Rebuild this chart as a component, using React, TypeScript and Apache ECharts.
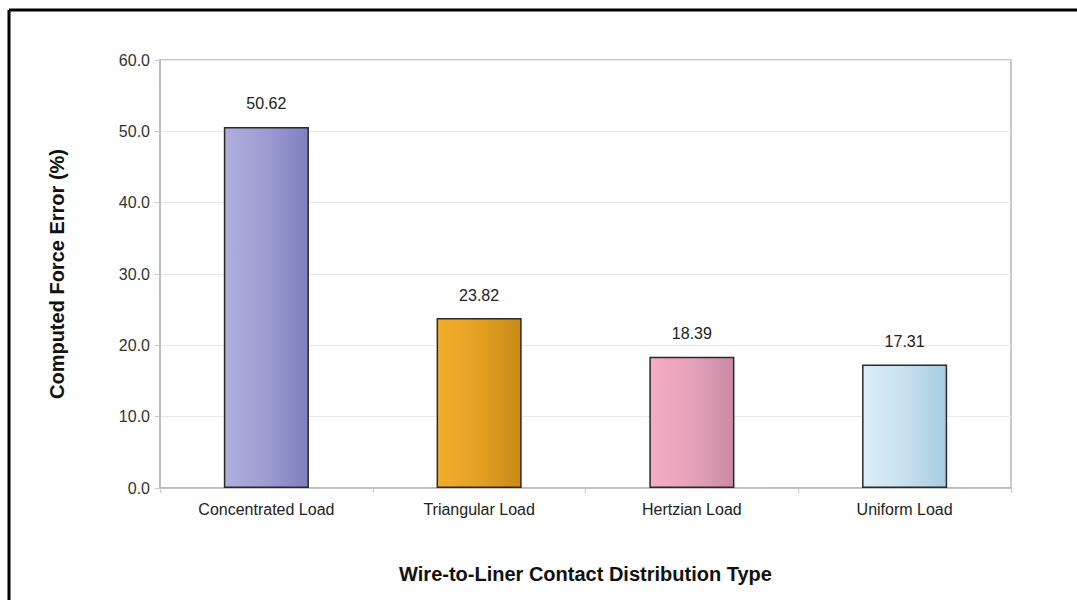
import React, { useEffect, useRef } from "react";
import * as echarts from "echarts";

const categories = ["Concentrated Load", "Triangular Load", "Hertzian Load", "Uniform Load"];
const values = [50.62, 23.82, 18.39, 17.31];
const barGradients = [
  ["#b0aedc", "#9c9dd2", "#7e80bf"],
  ["#f2ae2a", "#e4a022", "#c88a18"],
  ["#f5adc5", "#e6a2ba", "#c98aa5"],
  ["#dcedf8", "#c8e1f0", "#a6cbe1"],
];
const yTitle = "Computed Force Error (%)";
const xTitle = "Wire-to-Liner Contact Distribution Type";

export default function App() {
  const ref = useRef<HTMLDivElement>(null);
  useEffect(() => {
    if (!ref.current) return;
    const chart = echarts.init(ref.current, null, { renderer: "svg" });
    const font = "'Liberation Sans', Arial, sans-serif";
    chart.setOption({
      animation: false,
      backgroundColor: "#ffffff",
      textStyle: { fontFamily: font },
      grid: {
        left: 160,
        right: 66,
        top: 60,
        bottom: 112,
        show: true,
        borderColor: "#b8b8b8",
        borderWidth: 1.5,
      },
      graphic: [
        { type: "line", shape: { x1: 9, y1: 10, x2: 1077, y2: 10 }, style: { stroke: "#000", lineWidth: 3 } },
        { type: "line", shape: { x1: 9, y1: 10, x2: 9, y2: 600 }, style: { stroke: "#000", lineWidth: 3 } },
      ],
      xAxis: {
        type: "category",
        data: categories,
        name: xTitle,
        nameLocation: "middle",
        nameGap: 76,
        nameTextStyle: { fontFamily: font, fontSize: 20, fontWeight: "bold", color: "#111" },
        axisLine: { lineStyle: { color: "#b8b8b8", width: 1.5 } },
        axisTick: { show: true, length: 5, lineStyle: { color: "#c8c8c8" } },
        axisLabel: { fontFamily: font, fontSize: 16, color: "#222", margin: 13 },
      },
      yAxis: {
        type: "value",
        min: 0,
        max: 60,
        interval: 10,
        name: yTitle,
        nameLocation: "middle",
        nameGap: 93,
        nameTextStyle: { fontFamily: font, fontSize: 20, fontWeight: "bold", color: "#111" },
        axisLine: { show: true, lineStyle: { color: "#b8b8b8", width: 1.5 } },
        axisTick: { show: true, length: 5, lineStyle: { color: "#c8c8c8" } },
        axisLabel: {
          fontFamily: font,
          fontSize: 16,
          color: "#333",
          margin: 10,
          formatter: (v: number) => v.toFixed(1),
        },
        splitLine: { show: true, lineStyle: { color: "#e8e8e8", width: 1 } },
      },
      series: [
        {
          type: "bar",
          barWidth: "40%",
          data: values.map((v, i) => ({
            value: v,
            itemStyle: {
              color: new echarts.graphic.LinearGradient(0, 0, 1, 0, [
                { offset: 0, color: barGradients[i][0] },
                { offset: 0.5, color: barGradients[i][1] },
                { offset: 1, color: barGradients[i][2] },
              ]),
              borderColor: "#2a2a2a",
              borderWidth: 1.5,
            },
          })),
          label: {
            show: true,
            position: "top",
            distance: 15,
            fontFamily: font,
            fontSize: 16,
            color: "#222",
            formatter: (p: any) => p.value.toFixed(2),
          },
        },
      ],
    });
    return () => chart.dispose();
  }, []);
  return (
    <div
      ref={ref}
      style={{ position: "absolute", left: 0, top: 0, width: 1077, height: 600 }}
    />
  );
}
